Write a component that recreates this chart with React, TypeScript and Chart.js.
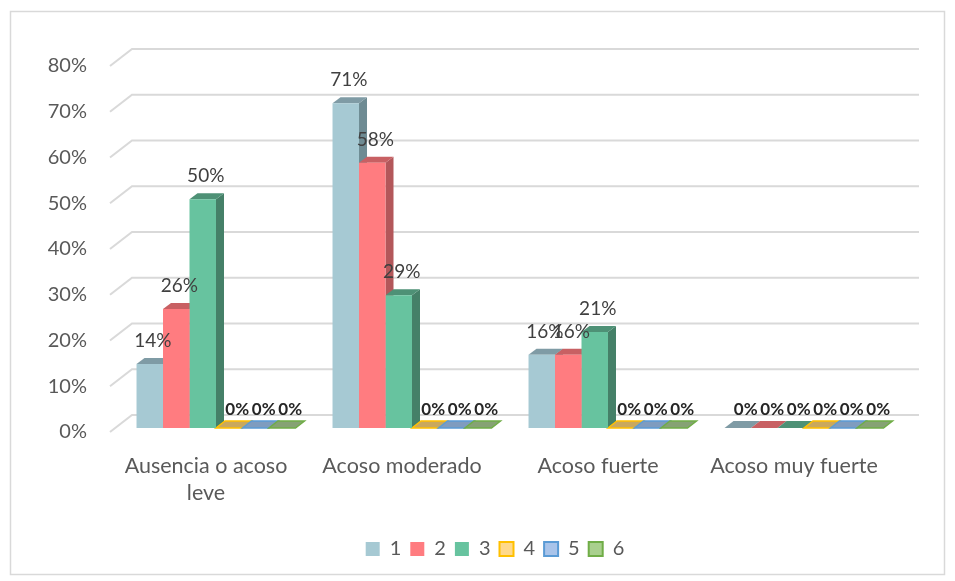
import React, { useEffect, useRef } from "react";
import { Chart, registerables } from "chart.js";

Chart.register(...registerables);

// ---- data ----
const categories: (string | string[])[] = [
  ["Ausencia o acoso", "leve"],
  "Acoso moderado",
  "Acoso fuerte",
  "Acoso muy fuerte",
];
const seriesNames = ["1", "2", "3", "4", "5", "6"];
const serie1 = [14, 71, 16, 0];
const serie2 = [26, 58, 16, 0];
const serie3 = [50, 29, 21, 0];
const serie4 = [0, 0, 0, 0];
const serie5 = [0, 0, 0, 0];
const serie6 = [0, 0, 0, 0];
const yMin = 0;
const yMax = 80;
const yStep = 10;

// ---- styles ----
const FONT = "Lato, 'Open Sans', sans-serif";
const styles = [
  { front: "#A6C9D3", side: "#6E8B93", top: "#7F9BA5", border: "#A6C9D3", bw: 0 },
  { front: "#FF7C80", side: "#B3575A", top: "#C86063", border: "#FF7C80", bw: 0 },
  { front: "#67C39F", side: "#458068", top: "#4E9176", border: "#67C39F", bw: 0 },
  { front: "#FFD98B", side: "#B8973F", top: "#C9A85E", border: "#FFC000", bw: 2 },
  { front: "#A9C4EA", side: "#5E7FA6", top: "#7F9CBF", border: "#5B9BD5", bw: 2 },
  { front: "#A9D08E", side: "#6C8F55", top: "#86A274", border: "#70AD47", bw: 2 },
];
const DX = 8;
const DY = 6;
const LEGEND_SHIFT = 44;

const threeD = {
  id: "threeD",
  afterLayout(chart: any) {
    const lg = chart.legend;
    if (lg) {
      lg.left += LEGEND_SHIFT;
      lg.right += LEGEND_SHIFT;
    }
  },
  beforeDraw(chart: any) {
    const ctx = chart.ctx;
    ctx.save();
    ctx.fillStyle = "#FFFFFF";
    ctx.fillRect(0, 0, chart.width, chart.height);
    ctx.strokeStyle = "#D9D9D9";
    ctx.lineWidth = 1.5;
    ctx.strokeRect(10.5, 11.5, 934, 563);
    ctx.restore();
  },
  beforeDatasetsDraw(chart: any) {
    const ctx = chart.ctx;
    const ys = chart.scales.y;
    const area = chart.chartArea;
    ctx.save();
    // gridlines: front stub + back wall line
    ctx.strokeStyle = "#D9D9D9";
    ctx.lineWidth = 2;
    for (let v = yMin; v <= yMax; v += yStep) {
      const y = ys.getPixelForValue(v);
      ctx.beginPath();
      ctx.moveTo(area.left - 8, y + 4);
      ctx.lineTo(area.left + 14, y - 13);
      ctx.lineTo(area.right + 17, y - 13);
      ctx.stroke();
    }
    // sides and tops
    chart.data.datasets.forEach((ds: any, di: number) => {
      const meta = chart.getDatasetMeta(di);
      const st = styles[di];
      meta.data.forEach((el: any, i: number) => {
        const v = ds.data[i];
        const left = el.x - el.width / 2;
        const right = el.x + el.width / 2;
        const top = el.y;
        const base = el.base;
        if (v > 0) {
          ctx.fillStyle = st.side;
          ctx.beginPath();
          ctx.moveTo(right, top);
          ctx.lineTo(right + DX, top - DY);
          ctx.lineTo(right + DX, base - DY);
          ctx.lineTo(right, base);
          ctx.closePath();
          ctx.fill();
          ctx.fillStyle = st.top;
          ctx.beginPath();
          ctx.moveTo(left, top);
          ctx.lineTo(right, top);
          ctx.lineTo(right + DX, top - DY);
          ctx.lineTo(left + DX, top - DY);
          ctx.closePath();
          ctx.fill();
        } else {
          ctx.fillStyle = st.top;
          ctx.beginPath();
          ctx.moveTo(left, base);
          ctx.lineTo(right, base);
          ctx.lineTo(right + DX + 1, base - DY - 1);
          ctx.lineTo(left + DX + 1, base - DY - 1);
          ctx.closePath();
          ctx.fill();
          if (st.bw > 0) {
            ctx.strokeStyle = st.border;
            ctx.lineWidth = 1.5;
            ctx.stroke();
          }
        }
      });
    });
    ctx.restore();
  },
  afterDatasetsDraw(chart: any) {
    const ctx = chart.ctx;
    ctx.save();
    ctx.textAlign = "center";
    ctx.textBaseline = "middle";
    chart.data.datasets.forEach((ds: any, di: number) => {
      const meta = chart.getDatasetMeta(di);
      meta.data.forEach((el: any, i: number) => {
        const v = ds.data[i];
        if (v > 0) {
          ctx.font = `19px ${FONT}`;
          ctx.fillStyle = "#404040";
          ctx.fillText(v + "%", el.x + 3, el.y - 23);
        } else {
          ctx.font = `bold 17px ${FONT}`;
          ctx.fillStyle = "#262626";
          ctx.fillText(v + "%", el.x + 8, el.base - 18);
        }
      });
    });
    ctx.restore();
  },
};

export default function App() {
  const ref = useRef<HTMLCanvasElement>(null);
  useEffect(() => {
    if (!ref.current) return;
    const all = [serie1, serie2, serie3, serie4, serie5, serie6];
    const chart = new Chart(ref.current, {
      type: "bar",
      data: {
        labels: categories as any,
        datasets: all.map((d, i) => ({
          label: seriesNames[i],
          data: d,
          backgroundColor: styles[i].front,
          borderColor: styles[i].border,
          borderWidth: styles[i].bw,
          categoryPercentage: 0.811,
          barPercentage: 1,
        })),
      },
      options: {
        responsive: false,
        animation: false,
        layout: { padding: { left: 0, right: 53, top: 62, bottom: 12 } },
        plugins: {
          legend: {
            position: "bottom",
            labels: {
              boxWidth: 14,
              boxHeight: 14,
              padding: 9,
              color: "#595959",
              font: { family: FONT, size: 20 },
            },
          },
          tooltip: { enabled: false },
        },
        scales: {
          x: {
            grid: { display: false, drawTicks: false },
            border: { display: false },
            ticks: {
              color: "#595959",
              font: { family: FONT, size: 21.5, lineHeight: 1.27 },
              padding: 24,
              labelOffset: -10,
              maxRotation: 0,
              autoSkip: false,
            },
            afterFit: (s: any) => {
              s.height = 102;
            },
          },
          y: {
            min: yMin,
            max: yMax,
            grid: { display: false, drawTicks: false },
            border: { display: false },
            ticks: {
              stepSize: yStep,
              color: "#595959",
              font: { family: FONT, size: 20 },
              padding: 31,
              labelOffset: 4,
              callback: (v: any) => v + "%",
            },
            afterFit: (s: any) => {
              s.width = 118;
            },
          },
        },
      },
      plugins: [threeD],
    });
    return () => chart.destroy();
  }, []);
  return (
    <div style={{ position: "fixed", left: 0, top: 0, width: 955, height: 581, background: "#fff" }}>
      <canvas ref={ref} width={955} height={581} style={{ display: "block" }} />
    </div>
  );
}
